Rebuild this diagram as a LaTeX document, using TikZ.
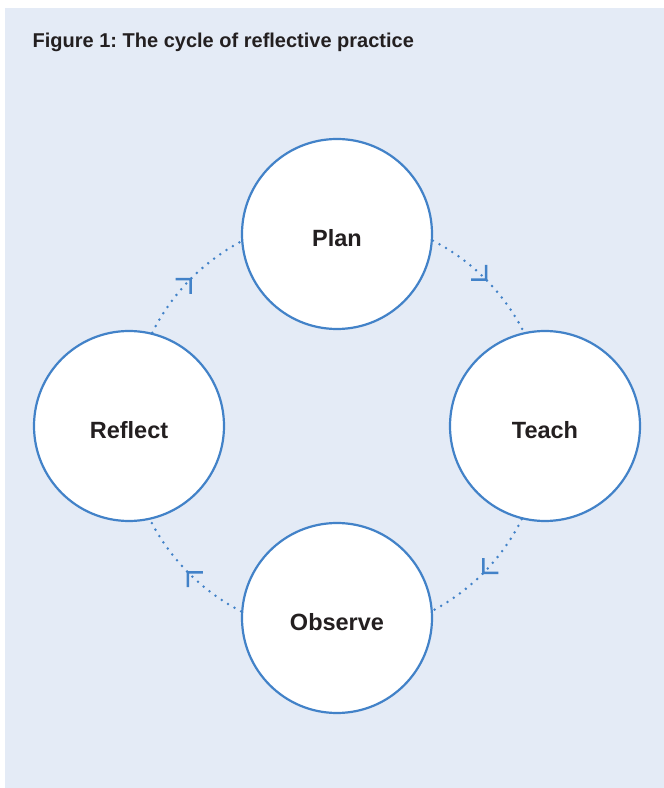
\documentclass[tikz,border=0pt]{standalone}
\usepackage{fontspec}
\setmainfont{Liberation Sans}
\usetikzlibrary{decorations.markings,backgrounds}
\frenchspacing
\definecolor{panel}{RGB}{228,235,246}
\definecolor{ring}{RGB}{66,130,200}
\definecolor{ink}{RGB}{35,31,32}
\tikzset{
  stage/.style={circle,draw=ring,line width=2.2pt,fill=white,minimum size=190pt,inner sep=0pt,
    text height=26pt,text depth=0pt,font=\fontsize{23.5}{28}\selectfont\bfseries,text=ink},
  cyc/.style={draw=ring,line width=2.8pt,line cap=round,dash pattern=on 0pt off 7.5pt,
    postaction={decorate},
    decoration={markings,mark=at position 0.5 with {\draw[ring,solid,line width=2.6pt,line cap=butt,line join=miter] (-10.5,10.5) -- (0,0) -- (-10.5,-10.5);}}},
}
\begin{document}
\begin{tikzpicture}[x=1pt,y=1pt]
\useasboundingbox (0,0) rectangle (664,788);
\node[stage] (plan) at (337,554) {Plan};
\node[stage] (teach) at (545,362) {Teach};
\node[stage] (observe) at (337,170) {Observe};
\node[stage] (reflect) at (129,362) {Reflect};
\node[anchor=base west,inner sep=0pt,font=\fontsize{20}{24}\selectfont\bfseries,text=ink] (title) at (32.5,740) {Figure 1: The cycle of reflective practice};
\begin{scope}[on background layer]
  \fill[white] (0,0) rectangle (664,788);
  \fill[panel] (5,0) rectangle (664,780);
  \draw[cyc] (plan.-4) arc[start angle=62.9,end angle=26.4,radius=208];
  \draw[cyc] (teach.256.8) arc[start angle=-26.4,end angle=-62.9,radius=208];
  \draw[cyc] (observe.176) arc[start angle=-117.1,end angle=-153.6,radius=208];
  \draw[cyc] (reflect.76.8) arc[start angle=153.6,end angle=117.1,radius=208];
\end{scope}
\end{tikzpicture}
\end{document}
